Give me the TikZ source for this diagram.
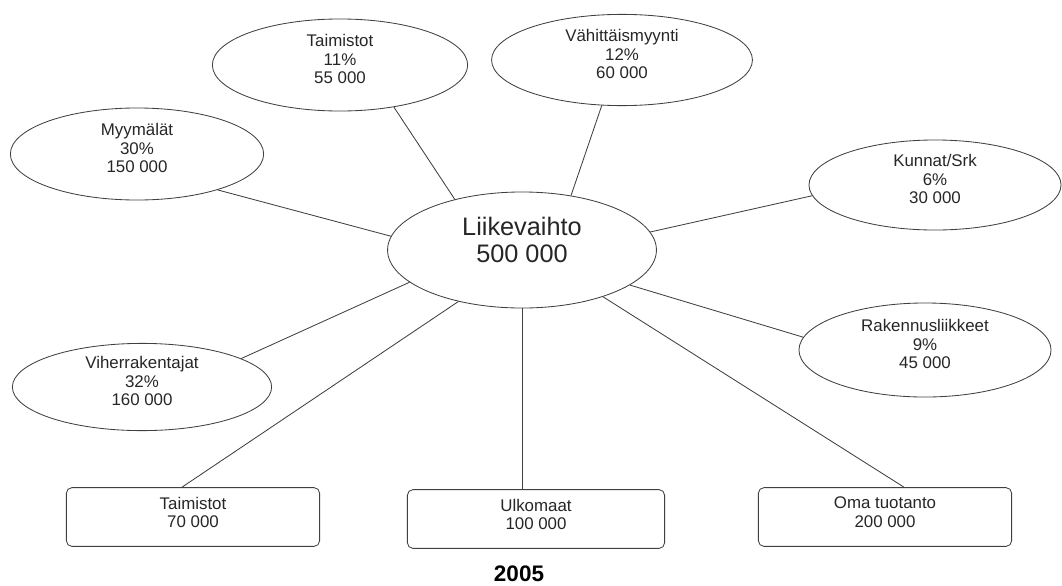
\documentclass[tikz,border=0pt]{standalone}
\usepackage{fontspec}
\setmainfont{Liberation Sans}
\usetikzlibrary{shapes.geometric,calc}

% empty last line, lifts the text a little above the middle
\newcommand{\liftup}[1]{\\[#1]\mbox{}}

\begin{document}
\begin{tikzpicture}[x=0.025cm,y=-0.025cm,
  line width=0.6pt, draw=black!75, text=black!85,
  oval/.style={draw, ellipse, inner sep=0pt, align=center, font=\fontsize{12}{13}\selectfont},
  bigoval/.style={draw, ellipse, inner sep=0pt, align=center, font=\fontsize{18}{19}\selectfont},
  databox/.style={draw, rectangle, rounded corners=4pt, inner sep=0pt, align=center,
    minimum width=6.33cm, minimum height=1.47cm, font=\fontsize{12}{13}\selectfont}]

\useasboundingbox (0,0) rectangle (1062,585);

\node[bigoval, minimum width=6.72cm, minimum height=2.9cm] (main) at (522,250) {Liikevaihto\\500 000\liftup{-5pt}};

\node[oval, minimum width=6.38cm, minimum height=2.3cm] (taim) at (340,65) {Taimistot\\11\%\\55 000\liftup{-4.4pt}};

\node[oval, minimum width=6.52cm, minimum height=2.28cm] (vahi) at (622,60) {Vähittäismyynti\\12\%\\60 000\liftup{-4.4pt}};

\node[oval, minimum width=6.33cm, minimum height=2.3cm] (myym) at (137,154) {Myymälät\\30\%\\150 000\liftup{-4.4pt}};

\node[oval, minimum width=6.3cm, minimum height=2.25cm] (kunn) at (935,185) {Kunnat/Srk\\6\%\\30 000\liftup{-4.4pt}};

\node[oval, minimum width=6.3cm, minimum height=2.35cm] (rake) at (925,350) {Rakennusliikkeet\\9\%\\45 000\liftup{-4.4pt}};

\node[oval, minimum width=6.48cm, minimum height=2.18cm] (vihe) at (142,387) {Viherrakentajat\\32\%\\160 000\liftup{-4.4pt}};

\node[databox] (tbox) at (193,517) {Taimistot\\70 000\liftup{-6pt}};

\node[databox, minimum width=6.43cm] (ulko) at (536,519) {Ulkomaat\\100 000\liftup{-6pt}};

\node[databox] (oma) at (885,517) {Oma tuotanto\\200 000\liftup{-6pt}};

\node[font=\fontsize{16}{18}\selectfont\bfseries, text=black] (year) at (519,574) {2005};

\draw (taim.-38)--(main.143);
\draw (vahi.246)--(main.48);
\draw (myym.-24)--(main.174);
\draw (kunn.185)--(main.8);
\draw (rake.174)--(main.-18);
\draw (vihe.16)--(main.196);
\draw ($(tbox.north)+(-11,0)$)--(main.219);
\draw (ulko.north -| main.south)--(main.south);
\draw ($(oma.north)+(19,0)$)--(main.-30);

\end{tikzpicture}
\end{document}
